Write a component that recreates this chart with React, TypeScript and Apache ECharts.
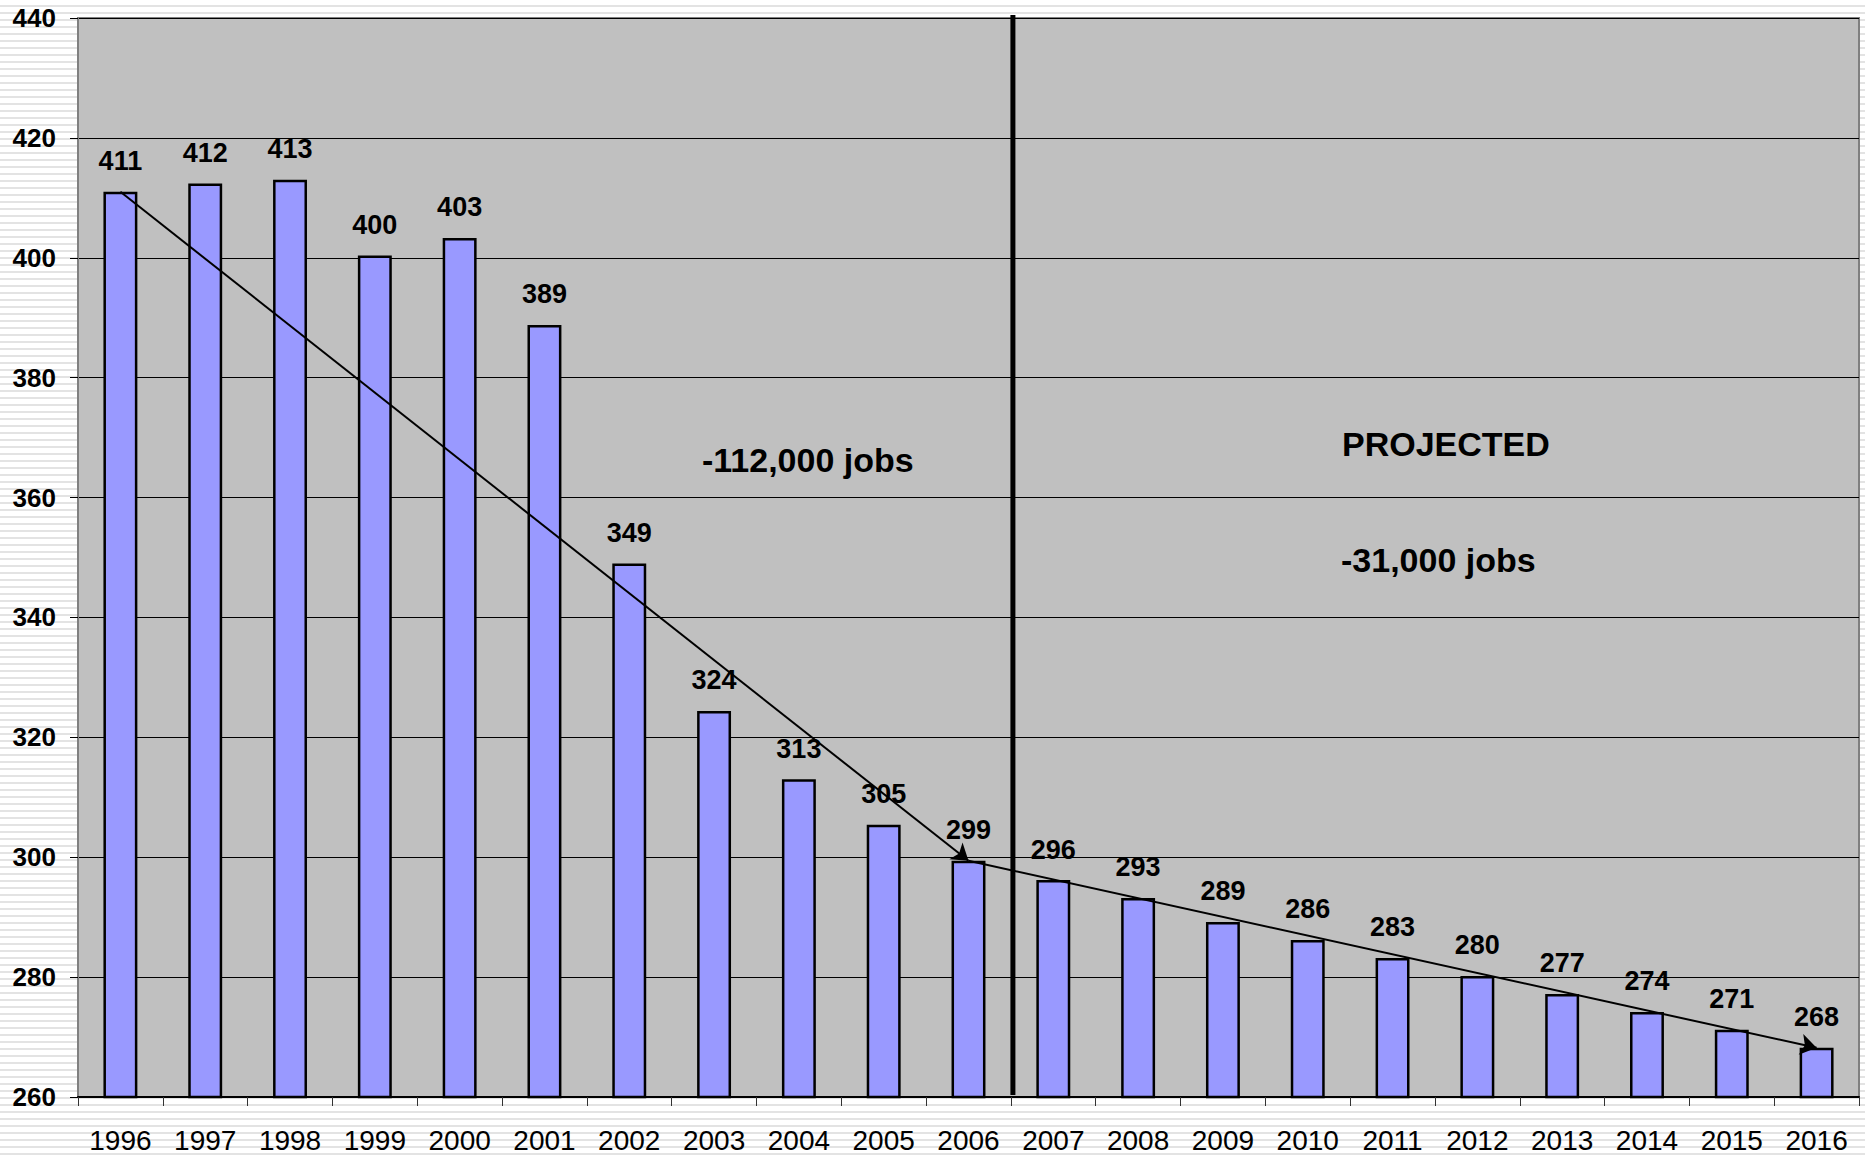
import React, { useEffect, useRef } from "react";
import * as echarts from "echarts";

const years = ["1996","1997","1998","1999","2000","2001","2002","2003","2004","2005","2006","2007","2008","2009","2010","2011","2012","2013","2014","2015","2016"];
const jobs = [411.0,412.4,413.0,400.4,403.3,388.8,349.0,324.4,313.0,305.4,299.4,296.2,293.2,289.2,286.2,283.2,280.2,277.2,274.2,271.2,268.2];
const yTicks = { min: 260, max: 440, interval: 20 };
const notes = [
  { text: "-112,000 jobs", x: 702, y: 460 },
  { text: "PROJECTED", x: 1342, y: 444 },
  { text: "-31,000 jobs", x: 1341, y: 560 },
];
const trendA = ["1996", "2006"];
const trendB = ["2006", "2016"];
const splitBetween = ["2006", "2007"];

const FONT = "'Liberation Sans', Arial, sans-serif";

export default function App() {
  const ref = useRef<HTMLDivElement>(null);
  useEffect(() => {
    document.body.style.margin = "0";
    const chart = echarts.init(ref.current!, null, { renderer: "svg" });
    const val = (y: string) => jobs[years.indexOf(y)];
    chart.setOption({
      animation: false,
      grid: {
        left: 78, top: 18, right: 6, bottom: 59,
        show: true, backgroundColor: "#c0c0c0", borderColor: "#808080", borderWidth: 2,
      },
      xAxis: {
        type: "category",
        data: years,
        axisLine: { lineStyle: { color: "#000", width: 2 } },
        axisTick: { show: true, length: 9, lineStyle: { color: "#333", width: 1 } },
        axisLabel: { color: "#000", fontFamily: FONT, fontSize: 28, margin: 29 },
      },
      yAxis: {
        type: "value",
        min: yTicks.min, max: yTicks.max, interval: yTicks.interval,
        axisLine: { show: true, lineStyle: { color: "#808080", width: 2 } },
        axisTick: { show: true, length: 8, lineStyle: { color: "#000", width: 1 } },
        axisLabel: { color: "#000", fontFamily: FONT, fontSize: 26, fontWeight: "bold", margin: 22 },
        splitLine: { lineStyle: { color: "#000", width: 1 } },
      },
      series: [
        {
          type: "bar",
          data: jobs,
          barWidth: "40%",
          itemStyle: { color: "#9999ff", borderColor: "#000", borderWidth: 2.5 },
          label: {
            show: true, position: "top", distance: 17,
            formatter: (p: any) => String(Math.round(p.value)),
            color: "#000", fontFamily: FONT, fontSize: 27, fontWeight: "bold",
          },
          markLine: {
            silent: true,
            symbol: ["none", "arrow"],
            symbolSize: 16,
            lineStyle: { color: "#000", width: 2, type: "solid" },
            label: { show: false },
            data: [
              [{ coord: [trendA[0], val(trendA[0])] }, { coord: [trendA[1], val(trendA[1])] }],
              [{ coord: [trendB[0], val(trendB[0])] }, { coord: [trendB[1], val(trendB[1])] }],
            ],
          },
          z: 2,
        },
      ],
    });
    const xa = chart.convertToPixel({ xAxisIndex: 0 }, splitBetween[0]) as number;
    const xb = chart.convertToPixel({ xAxisIndex: 0 }, splitBetween[1]) as number;
    const xs = (xa + xb) / 2 + 2;
    const yTop = (chart.convertToPixel({ yAxisIndex: 0 }, yTicks.max) as number) - 3;
    const yBot = (chart.convertToPixel({ yAxisIndex: 0 }, yTicks.min) as number) - 2;
    chart.setOption({
      graphic: [
        {
          type: "line", z: 100,
          shape: { x1: xs, y1: yTop, x2: xs, y2: yBot },
          style: { stroke: "#000", lineWidth: 5 },
        },
        ...notes.map((n) => ({
          type: "text", z: 100, x: n.x, y: n.y,
          style: {
            text: n.text, fill: "#000", font: `bold 34px ${FONT}`,
            textAlign: "left", textVerticalAlign: "middle",
          },
        })),
      ],
    });
    return () => chart.dispose();
  }, []);
  return (
    <div
      style={{
        position: "absolute", left: 0, top: 0, width: 1865, height: 1156,
        background: "repeating-linear-gradient(to bottom, #ffffff 0px, #ffffff 5px, #e3e3e3 5px, #e3e3e3 7px)",
      }}
    >
      <div ref={ref} style={{ width: 1865, height: 1156 }} />
    </div>
  );
}
